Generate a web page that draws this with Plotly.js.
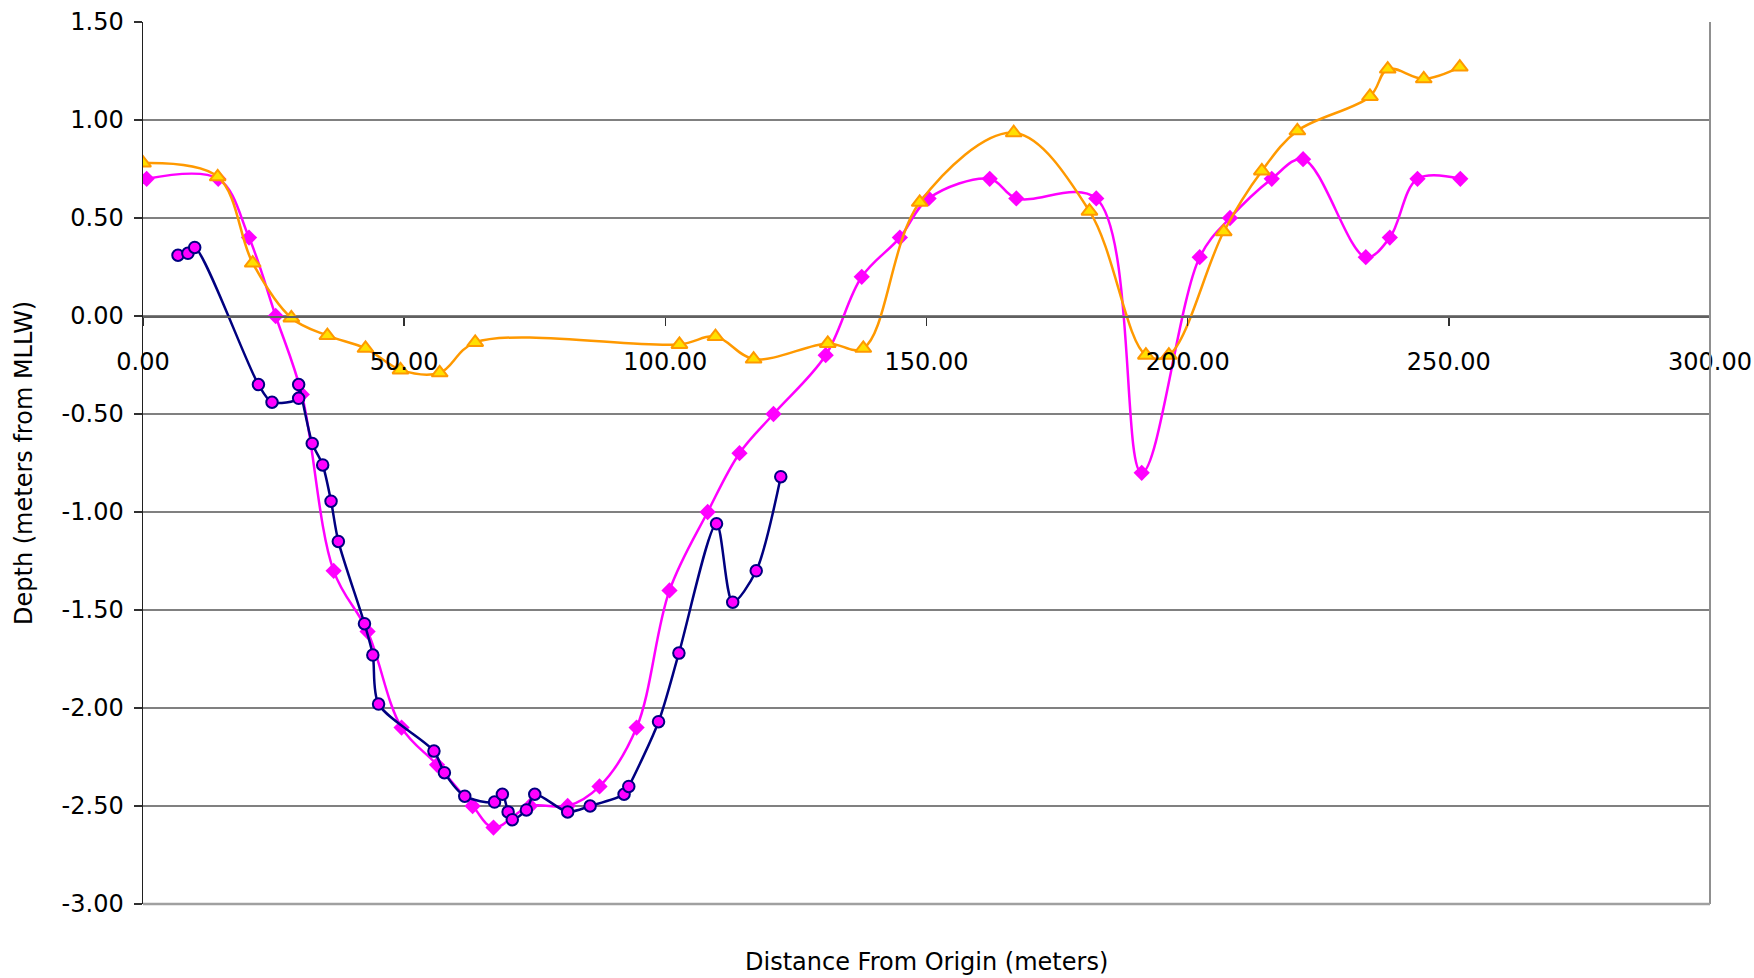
<!DOCTYPE html>
<html>
<head>
<meta charset="utf-8">
<script src="https://cdn.plot.ly/plotly-3.0.1.min.js"></script>
<style>
  html, body { margin: 0; padding: 0; background: #ffffff; }
  #chart { width: 1754px; height: 978px; }
</style>
</head>
<body>
<div id="chart"></div>
<script>
// ---- Data ----
// Series A: orange line, yellow triangles
const orangeX = [0, 14.3, 21.0, 28.4, 35.3, 42.6, 49.3, 56.8, 63.6, 102.7, 109.6, 116.9, 131.1, 137.9, 148.7, 166.7, 181.2, 192.0, 196.4, 206.9, 214.2, 221.0, 234.9, 238.3, 245.2, 252.1];
const orangeY = [0.78, 0.71, 0.27, -0.01, -0.10, -0.165, -0.275, -0.29, -0.135, -0.145, -0.105, -0.22, -0.14, -0.165, 0.58, 0.935, 0.535, -0.20, -0.20, 0.43, 0.74, 0.945, 1.12, 1.26, 1.21, 1.27];

// Series B: magenta line, magenta diamonds
const magentaX = [0.7, 14.4, 20.3, 25.4, 30.4, 36.5, 43.0, 49.5, 56.3, 63.1, 67.1, 74.1, 81.3, 87.4, 94.5, 100.8, 108.1, 114.2, 120.7, 130.7, 137.6, 144.9, 150.4, 162.1, 167.2, 182.5, 191.2, 202.3, 208.1, 216.1, 222.1, 234.1, 238.7, 244.0, 252.2];
const magentaY = [0.70, 0.70, 0.40, 0.00, -0.40, -1.30, -1.61, -2.10, -2.29, -2.50, -2.61, -2.50, -2.50, -2.40, -2.10, -1.40, -1.00, -0.70, -0.50, -0.20, 0.20, 0.40, 0.60, 0.70, 0.60, 0.60, -0.80, 0.30, 0.50, 0.70, 0.80, 0.30, 0.40, 0.70, 0.70];

// Series C: navy line, magenta circles with navy outline
const navyX = [6.7, 8.6, 9.9, 22.1, 24.7, 29.8, 29.8, 32.4, 34.4, 36.0, 37.4, 42.4, 44.0, 45.1, 55.7, 57.7, 61.6, 67.3, 68.8, 69.9, 70.7, 73.4, 75.0, 81.3, 85.6, 92.1, 93.0, 98.7, 102.6, 109.8, 112.9, 117.4, 122.1];
const navyY = [0.31, 0.32, 0.35, -0.35, -0.44, -0.42, -0.35, -0.65, -0.76, -0.945, -1.15, -1.57, -1.73, -1.98, -2.22, -2.33, -2.45, -2.48, -2.44, -2.53, -2.57, -2.52, -2.44, -2.53, -2.50, -2.44, -2.40, -2.07, -1.72, -1.06, -1.46, -1.30, -0.82];

// Axis text and ticks
const xTitle = 'Distance From Origin (meters)';
const yTitle = 'Depth (meters from MLLW)';
const xRange = [0, 300];
const yRange = [-3, 1.5];
const xTickVals = [0, 50, 100, 150, 200, 250, 300];
const xTickText = ['0.00', '50.00', '100.00', '150.00', '200.00', '250.00', '300.00'];
const yTickVals = [1.5, 1.0, 0.5, 0, -0.5, -1.0, -1.5, -2.0, -2.5, -3.0];
const yTickText = ['1.50', '1.00', '0.50', '0.00', '-0.50', '-1.00', '-1.50', '-2.00', '-2.50', '-3.00'];

const FONT = 'DejaVu Sans, Verdana, sans-serif';
const FS = 24;

const traces = [
  {
    x: magentaX, y: magentaY, type: 'scatter', mode: 'lines+markers',
    line: { color: '#FF00FF', width: 2.5, shape: 'spline', smoothing: 1 },
    marker: { symbol: 'diamond', size: 12.5, color: '#FF00FF', line: { width: 0 } },
    hoverinfo: 'skip', showlegend: false
  },
  {
    x: orangeX, y: orangeY, type: 'scatter', mode: 'lines+markers',
    line: { color: '#FF9900', width: 2.5, shape: 'spline', smoothing: 1 },
    marker: { symbol: 'triangle-up', size: 14, color: '#FFE000', line: { color: '#FF9900', width: 2 } },
    hoverinfo: 'skip', showlegend: false
  },
  {
    x: navyX, y: navyY, type: 'scatter', mode: 'lines+markers',
    line: { color: '#000080', width: 2.5, shape: 'spline', smoothing: 0.8 },
    marker: { symbol: 'circle', size: 11.5, color: '#FF00FF', line: { color: '#000080', width: 2 } },
    hoverinfo: 'skip', showlegend: false
  }
];

const yZeroFrac = (0 - yRange[0]) / (yRange[1] - yRange[0]);

const layout = {
  width: 1754, height: 978,
  margin: { l: 143, r: 44, t: 22, b: 74, pad: 0 },
  paper_bgcolor: '#ffffff', plot_bgcolor: '#ffffff',
  font: { family: FONT, size: FS, color: '#000000' },
  xaxis: {
    range: xRange, tickmode: 'array', tickvals: xTickVals, ticktext: xTickText,
    anchor: 'free', position: yZeroFrac,
    showgrid: false, zeroline: false,
    showline: true, linecolor: '#606060', linewidth: 1.5,
    ticks: 'outside', ticklen: 8, tickwidth: 1.5, tickcolor: '#303030',
    ticklabelstandoff: 16,
    tickfont: { family: FONT, size: FS, color: '#000000' }
  },
  yaxis: {
    range: yRange, tickmode: 'array', tickvals: yTickVals, ticktext: yTickText,
    showgrid: true, gridcolor: '#808080', gridwidth: 1.3,
    zeroline: false,
    showline: true, linecolor: '#202020', linewidth: 1.5,
    ticks: 'outside', ticklen: 8, tickwidth: 1.5, tickcolor: '#303030',
    ticklabelstandoff: 5,
    tickfont: { family: FONT, size: FS, color: '#000000' }
  },
  shapes: [
    { type: 'line', xref: 'paper', yref: 'paper', x0: 1, x1: 1, y0: 0, y1: 1, line: { color: '#909090', width: 2 } },
    { type: 'line', xref: 'paper', yref: 'paper', x0: 0, x1: 1, y0: 0, y1: 0, line: { color: '#A0A0A0', width: 2.5 } }
  ],
  annotations: [
    { text: xTitle, xref: 'paper', yref: 'paper', x: 0.5, y: 0, yanchor: 'middle', xanchor: 'center', yshift: -58, showarrow: false, font: { family: FONT, size: FS, color: '#000000' } },
    { text: yTitle, xref: 'paper', yref: 'paper', x: 0, y: 0.5, xanchor: 'center', yanchor: 'middle', xshift: -119, textangle: -90, showarrow: false, font: { family: FONT, size: FS, color: '#000000' } }
  ]
};

Plotly.newPlot('chart', traces, layout, { displayModeBar: false, staticPlot: true });
</script>
</body>
</html>
